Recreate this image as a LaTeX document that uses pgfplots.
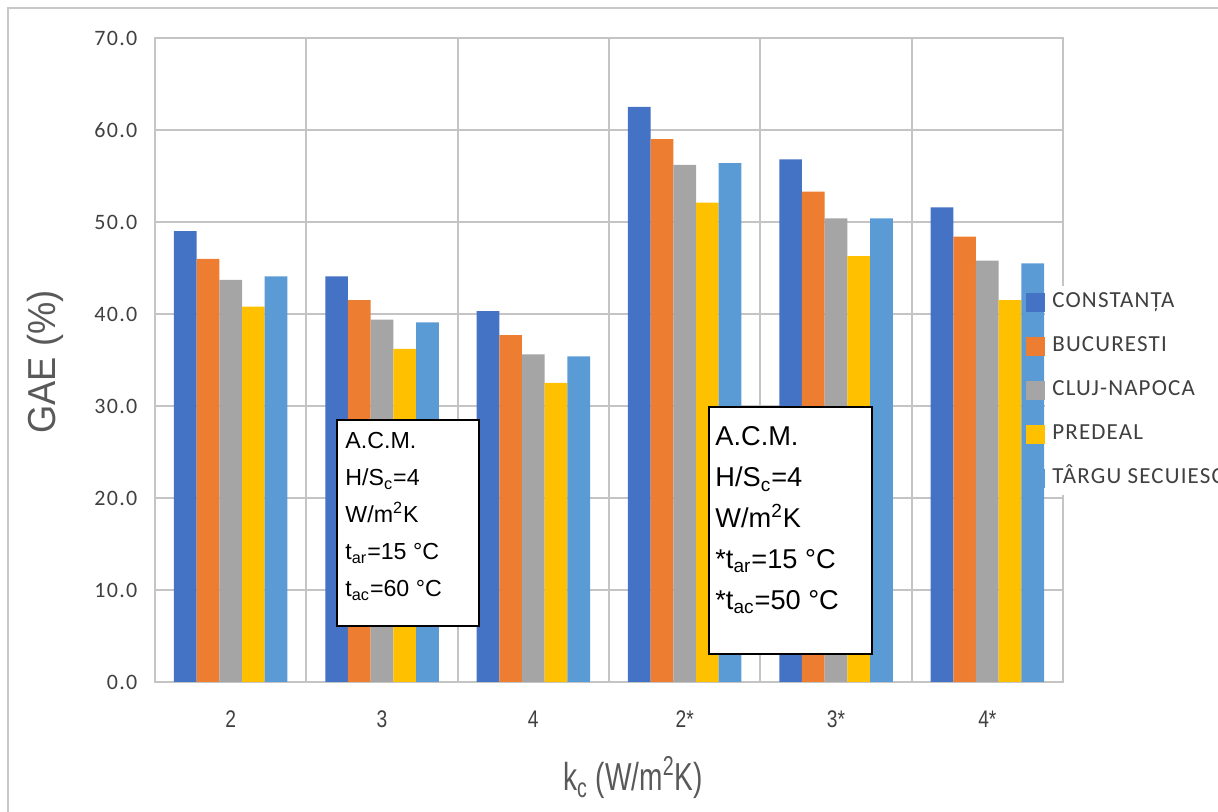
\documentclass[border=0pt]{standalone}
\usepackage{pgfplots}
\pgfplotsset{compat=1.18}
\usepackage{fontspec}
\setmainfont{Liberation Sans}
\newfontfamily\tickfont[LetterSpace=6]{Carlito}
\newfontfamily\legfont[LetterSpace=5]{Carlito}
\newfontfamily\narrowfont[FakeStretch=0.72]{Liberation Sans}
\newfontfamily\xtickfont[FakeStretch=0.8]{Liberation Sans}
\newfontfamily\ylabfont[FakeStretch=0.93]{Liberation Sans}

\definecolor{cConst}{HTML}{4472C4}
\definecolor{cBuc}{HTML}{ED7D31}
\definecolor{cCluj}{HTML}{A5A5A5}
\definecolor{cPred}{HTML}{FFC000}
\definecolor{cTarg}{HTML}{5B9BD5}
\definecolor{gridgray}{HTML}{C4C4C4}
\definecolor{framegray}{HTML}{C8C8C8}
\definecolor{txtgray}{HTML}{595959}
\definecolor{ticktxt}{HTML}{404040}

\begin{document}
\begin{tikzpicture}
\path[use as bounding box] (0,0) rectangle (609pt,406pt);
\clip (0,0) rectangle (609pt,406pt);
% chart frame
\draw[framegray, line width=1pt] (4pt,-5pt) -- (4pt,402pt) -- (615pt,402pt);

\begin{axis}[
  at={(77.5pt,65pt)}, anchor=south west,
  scale only axis, width=454pt, height=322pt,
  ymin=0, ymax=70, ytick={0,10,...,70},
  xmin=-0.5, xmax=5.5, enlargelimits=false,
  xtick={0,...,5}, xticklabels={2,3,4,2*,3*,4*},
  minor xtick={0.5,1.5,...,4.5},
  ymajorgrids, xminorgrids,
  major grid style={gridgray, line width=1pt},
  minor grid style={gridgray, line width=1pt},
  axis line style={gridgray, line width=1pt},
  major tick length=0pt, minor tick length=0pt,
  tick style={draw=none},
  /pgf/number format/.cd, fixed, fixed zerofill, precision=1, assume math mode=true,
  /pgfplots/.cd,
  yticklabel style={font=\tickfont\fontsize{11}{13}\selectfont, text=ticktxt, xshift=-5.3pt},
  xticklabel style={font=\xtickfont\fontsize{12}{14}\selectfont, text=ticktxt, yshift=-11pt},
  xlabel={k\textsubscript{c} (W/m\textsuperscript{2}K)},
  xlabel style={font=\narrowfont\fontsize{19.5}{22}\selectfont, text=txtgray,
    at={(axis description cs:0.5264,-0.149)}, anchor=center},
  ylabel={GAE (\%)},
  ylabel style={font=\ylabfont\fontsize{19.5}{22}\selectfont, text=txtgray,
    at={(axis description cs:-0.1211,0.497)}, anchor=center, rotate=0},
  ybar=0pt, bar width=0.15,
  legend image code/.code={\path (0pt,0pt); \fill[#1,overlay] (-9.5pt,-4.75pt) rectangle (0pt,4.75pt);},
  legend style={at={(axis description cs:0.9802,0.6157)}, anchor=north west,
    fill=white, draw=none, inner xsep=0pt, inner ysep=3pt,
    font=\legfont\fontsize{11.5}{14}\selectfont, text=ticktxt,
    row sep=11.5pt, column sep=0pt,
    nodes={text height=8pt, text depth=2.5pt, inner ysep=0pt, inner xsep=3.5pt},
    cells={anchor=west}},
]
\addplot[fill=cConst, draw=none, bar shift=-0.3] coordinates {(0,49.0) (1,44.1) (2,40.3) (3,62.5) (4,56.8) (5,51.6)};
\addplot[fill=cBuc, draw=none, bar shift=-0.15] coordinates {(0,46.0) (1,41.5) (2,37.7) (3,59.0) (4,53.3) (5,48.4)};
\addplot[fill=cCluj, draw=none, bar shift=0] coordinates {(0,43.7) (1,39.4) (2,35.6) (3,56.2) (4,50.4) (5,45.8)};
\addplot[fill=cPred, draw=none, bar shift=0.15] coordinates {(0,40.8) (1,36.2) (2,32.5) (3,52.1) (4,46.3) (5,41.5)};
\addplot[fill=cTarg, draw=none, bar shift=0.3] coordinates {(0,44.1) (1,39.1) (2,35.4) (3,56.4) (4,50.4) (5,45.5)};
\legend{CONSTANȚA, BUCURESTI, CLUJ-NAPOCA, PREDEAL, TÂRGU SECUIESC}
\end{axis}

% parameter boxes
\draw[black, line width=1.2pt, fill=white] (168.5pt,93pt) rectangle (239.5pt,196pt);
\begin{scope}[every node/.style={anchor=base west, inner sep=0pt, font=\fontsize{11.6}{14}\selectfont}]
\node at (172.5pt,181.75pt) {A.C.M.};
\node at (172.5pt,163.25pt) {H/S\textsubscript{c}=4};
\node at (172.5pt,144.75pt) {W/m\textsuperscript{2}K};
\node at (172.5pt,126.25pt) {t\textsubscript{ar}=15 °C};
\node at (172.5pt,107.75pt) {t\textsubscript{ac}=60 °C};
\end{scope}

\draw[black, line width=1.2pt, fill=white] (354.5pt,79pt) rectangle (436pt,202.5pt);
\begin{scope}[every node/.style={anchor=base west, inner sep=0pt, font=\fontsize{13.6}{16}\selectfont}]
\node at (357.5pt,183pt) {A.C.M.};
\node at (357.5pt,162.6pt) {H/S\textsubscript{c}=4};
\node at (357.5pt,142.2pt) {W/m\textsuperscript{2}K};
\node at (357.5pt,121.8pt) {*t\textsubscript{ar}=15 °C};
\node at (357.5pt,101.4pt) {*t\textsubscript{ac}=50 °C};
\end{scope}
\end{tikzpicture}
\end{document}
